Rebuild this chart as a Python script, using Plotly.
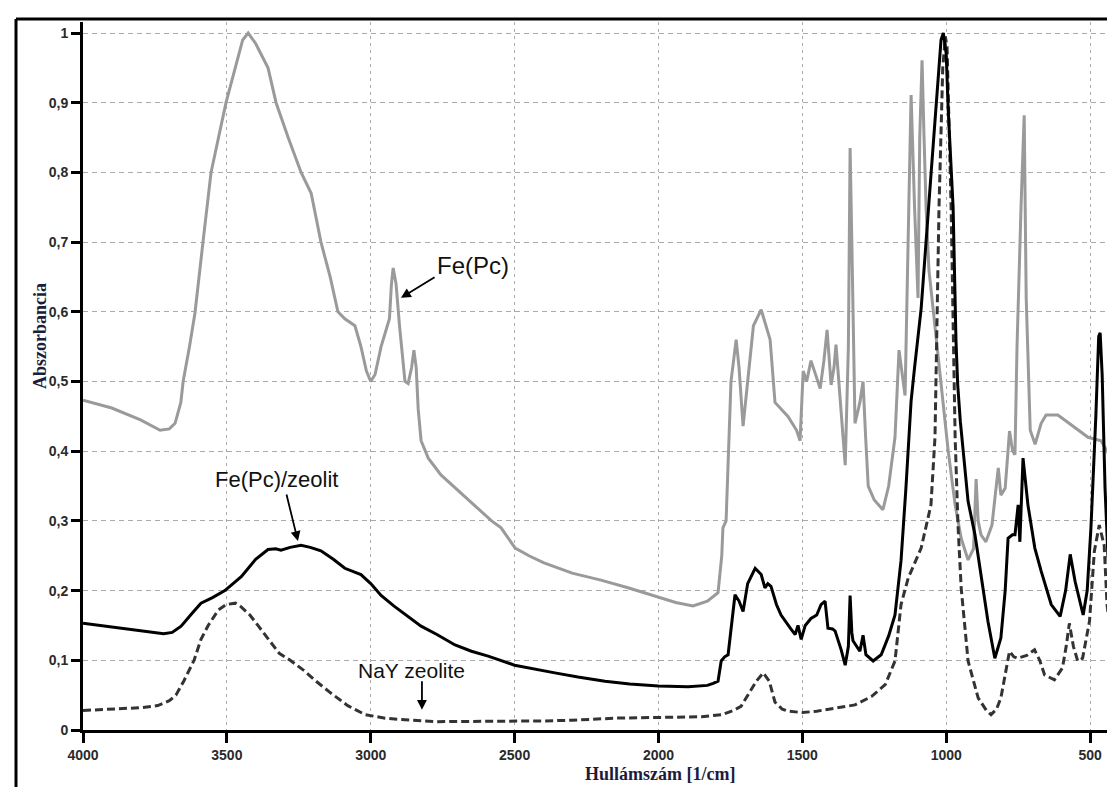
import plotly.graph_objects as go

# ---- data ----
fepc_x = [4000, 3900, 3800, 3732, 3700, 3680, 3660, 3652, 3630, 3611, 3583, 3555, 3503, 3472, 3445, 3426, 3400,
          3357, 3329, 3287, 3242, 3207, 3173, 3141, 3114, 3090, 3070, 3055, 3034, 3015, 3000, 2985, 2964, 2947,
          2935, 2928, 2922, 2912, 2900, 2881, 2870, 2858, 2850, 2842, 2835, 2825, 2800, 2756, 2700, 2627, 2580,
          2547, 2498, 2450, 2400, 2300, 2250, 2200, 2106, 2000, 1940, 1880, 1830, 1793, 1780, 1776, 1765, 1748,
          1730, 1720, 1706, 1690, 1670, 1643, 1625, 1612, 1595, 1550, 1520, 1508, 1497, 1485, 1470, 1455, 1438,
          1425, 1414, 1400, 1390, 1383, 1365, 1351, 1340, 1334, 1328, 1322, 1317, 1300, 1289, 1280, 1271, 1250,
          1220, 1200, 1178, 1164, 1150, 1143, 1130, 1122, 1110, 1098, 1092, 1084, 1077, 1070, 1060, 1040, 1020,
          1003, 993, 969, 948, 924, 905, 896, 889, 879, 862, 841, 830, 819, 810, 795, 780, 769, 761, 754, 740,
          729, 722, 708, 691, 670, 653, 612, 566, 507, 462, 427, 403]
fepc_y = [0.473, 0.462, 0.445, 0.43, 0.432, 0.44, 0.47, 0.50, 0.55, 0.598, 0.70, 0.80, 0.90, 0.95, 0.99, 1.0, 0.985,
          0.95, 0.90, 0.85, 0.80, 0.77, 0.70, 0.65, 0.60, 0.59, 0.585, 0.58, 0.55, 0.515, 0.50, 0.51, 0.55, 0.575,
          0.59, 0.64, 0.663, 0.64, 0.58, 0.50, 0.497, 0.52, 0.545, 0.52, 0.46, 0.415, 0.39, 0.366, 0.345, 0.318, 0.30,
          0.29, 0.261, 0.25, 0.24, 0.225, 0.22, 0.215, 0.204, 0.19, 0.183, 0.178, 0.185, 0.197, 0.25, 0.29, 0.30, 0.50,
          0.56, 0.52, 0.436, 0.50, 0.58, 0.603, 0.58, 0.56, 0.47, 0.45, 0.43, 0.415, 0.515, 0.50, 0.53, 0.51, 0.49,
          0.53, 0.574, 0.495, 0.52, 0.553, 0.45, 0.38, 0.55, 0.835, 0.70, 0.55, 0.44, 0.47, 0.50, 0.42, 0.35, 0.33,
          0.316, 0.35, 0.42, 0.545, 0.50, 0.48, 0.75, 0.911, 0.75, 0.62, 0.85, 0.961, 0.85, 0.75, 0.66, 0.58, 0.50,
          0.43, 0.40, 0.323, 0.275, 0.244, 0.26, 0.36, 0.30, 0.28, 0.27, 0.294, 0.333, 0.376, 0.337, 0.347, 0.429,
          0.40, 0.395, 0.548, 0.75, 0.882, 0.62, 0.43, 0.41, 0.44, 0.452, 0.452, 0.438, 0.42, 0.415, 0.39, 0.362]

zeo_x = [4000, 3900, 3800, 3720, 3690, 3659, 3620, 3590, 3550, 3507, 3450, 3400, 3357, 3330, 3312, 3280, 3242,
         3210, 3173, 3130, 3090, 3034, 3000, 2964, 2920, 2870, 2825, 2770, 2707, 2650, 2592, 2500, 2430, 2360,
         2280, 2186, 2100, 2000, 1897, 1830, 1810, 1793, 1782, 1770, 1758, 1745, 1734, 1720, 1706, 1690, 1664,
         1643, 1630, 1620, 1609, 1590, 1574, 1540, 1525, 1515, 1504, 1490, 1470, 1450, 1435, 1421, 1411, 1395,
         1386, 1365, 1351, 1340, 1334, 1328, 1324, 1300, 1289, 1279, 1254, 1226, 1200, 1178, 1157, 1140, 1122,
         1110, 1087, 1053, 1030, 1018, 1010, 1000, 993, 976, 966, 960, 951, 924, 900, 879, 855, 831, 810, 795,
         785, 770, 761, 750, 744, 733, 716, 692, 670, 635, 604, 585, 569, 552, 524, 510, 497, 480, 470, 465, 458,
         448, 438, 427, 413, 396]
zeo_y = [0.153, 0.148, 0.142, 0.138, 0.14, 0.149, 0.168, 0.182, 0.19, 0.20, 0.22, 0.245, 0.259, 0.26, 0.258, 0.262,
         0.265, 0.262, 0.257, 0.245, 0.232, 0.223, 0.21, 0.193, 0.178, 0.163, 0.149, 0.137, 0.122, 0.113, 0.106,
         0.093, 0.087, 0.082, 0.076, 0.07, 0.066, 0.063, 0.062, 0.064, 0.067, 0.07, 0.099, 0.105, 0.108, 0.15,
         0.194, 0.185, 0.17, 0.21, 0.232, 0.223, 0.204, 0.21, 0.206, 0.18, 0.165, 0.145, 0.137, 0.15, 0.13, 0.15,
         0.16, 0.165, 0.18, 0.185, 0.146, 0.145, 0.142, 0.115, 0.093, 0.12, 0.193, 0.14, 0.128, 0.113, 0.136,
         0.108, 0.099, 0.108, 0.135, 0.165, 0.243, 0.347, 0.472, 0.52, 0.605, 0.796, 0.92, 0.99, 1.0, 0.97, 0.89,
         0.75, 0.558, 0.495, 0.443, 0.328, 0.28, 0.223, 0.156, 0.103, 0.132, 0.20, 0.275, 0.28, 0.28, 0.323, 0.27,
         0.39, 0.323, 0.261, 0.228, 0.18, 0.163, 0.2, 0.252, 0.213, 0.165, 0.2, 0.29, 0.45, 0.565, 0.57, 0.51,
         0.347, 0.25, 0.185, 0.17, 0.19]

nay_x = [4000, 3900, 3800, 3740, 3700, 3677, 3650, 3614, 3590, 3565, 3530, 3503, 3470, 3454, 3420, 3392, 3355,
         3318, 3280, 3231, 3190, 3145, 3080, 3019, 2950, 2895, 2770, 2600, 2400, 2300, 2150, 2000, 1850, 1780,
         1740, 1713, 1690, 1660, 1636, 1615, 1595, 1570, 1550, 1500, 1450, 1400, 1317, 1260, 1212, 1178, 1157,
         1132, 1087, 1053, 1039, 1035, 1025, 1012, 1003, 997, 990, 983, 969, 959, 948, 924, 889, 860, 844, 825,
         810, 795, 780, 765, 752, 720, 693, 675, 658, 624, 596, 583, 572, 558, 543, 526, 502, 485, 468, 451, 441,
         424, 396]
nay_y = [0.028, 0.03, 0.032, 0.035, 0.042, 0.05, 0.07, 0.10, 0.13, 0.15, 0.172, 0.18, 0.182, 0.178, 0.165, 0.15,
         0.13, 0.11, 0.10, 0.085, 0.07, 0.055, 0.035, 0.022, 0.017, 0.015, 0.012, 0.012, 0.013, 0.014, 0.017, 0.018,
         0.019, 0.022, 0.028, 0.034, 0.05, 0.07, 0.082, 0.07, 0.04, 0.03, 0.027, 0.025, 0.027, 0.03, 0.036, 0.048,
         0.065, 0.099, 0.18, 0.218, 0.261, 0.323, 0.42, 0.515, 0.75, 0.95, 0.995, 0.98, 0.88, 0.75, 0.42, 0.294,
         0.204, 0.099, 0.046, 0.028, 0.022, 0.03, 0.046, 0.08, 0.113, 0.105, 0.103, 0.107, 0.115, 0.10, 0.079,
         0.072, 0.089, 0.12, 0.153, 0.12, 0.099, 0.103, 0.156, 0.257, 0.294, 0.265, 0.18, 0.12, 0.118]

x_tick_vals = [4000, 3500, 3000, 2500, 2000, 1500, 1000, 500]
x_tick_text = ["4000", "3500", "3000", "2500", "2000", "1500", "1000", "500"]
y_tick_vals = [0, 0.1, 0.2, 0.3, 0.4, 0.5, 0.6, 0.7, 0.8, 0.9, 1.0]
y_tick_text = ["0", "0,1", "0,2", "0,3", "0,4", "0,5", "0,6", "0,7", "0,8", "0,9", "1"]

# ---- figure ----
fig = go.Figure()
fig.add_trace(go.Scatter(x=fepc_x, y=fepc_y, mode="lines", name="Fe(Pc)",
                         line=dict(color="#9a9a9a", width=3)))
fig.add_trace(go.Scatter(x=nay_x, y=nay_y, mode="lines", name="NaY zeolite",
                         line=dict(color="#333333", width=3, dash="8px,4px")))
fig.add_trace(go.Scatter(x=zeo_x, y=zeo_y, mode="lines", name="Fe(Pc)/zeolit",
                         line=dict(color="#000000", width=3)))

L, R, T, B = 75, 3, 14, 65
W, H = 1115, 787
pw, ph = W - L - R, H - T - B

def px_x(p):
    return (p - L) / pw

def px_y(p):
    return (H - B - p) / ph

sans = "Liberation Sans, Arial, sans-serif"
title_font = dict(family="Liberation Serif, Times New Roman, serif", size=18, color="#1c1c3c")

annotations = [
    dict(x=2895, y=0.62, ax=2773, ay=0.651, xref="x", yref="y", axref="x", ayref="y",
         showarrow=True, arrowhead=2, arrowsize=1.1, arrowwidth=1.8, arrowcolor="#000", text=""),
    dict(x=2644, y=0.667, xref="x", yref="y", text="Fe(Pc)", showarrow=False,
         font=dict(family=sans, size=24, color="#111")),
    dict(x=3253, y=0.271, ax=3294, ay=0.34, xref="x", yref="y", axref="x", ayref="y",
         showarrow=True, arrowhead=2, arrowsize=1.1, arrowwidth=1.8, arrowcolor="#000", text=""),
    dict(x=3329, y=0.359, xref="x", yref="y", text="Fe(Pc)/zeolit", showarrow=False,
         font=dict(family=sans, size=22, color="#111")),
    dict(x=2822, y=0.029, ax=2822, ay=0.072, xref="x", yref="y", axref="x", ayref="y",
         showarrow=True, arrowhead=2, arrowsize=1.1, arrowwidth=1.8, arrowcolor="#000", text=""),
    dict(x=2860, y=0.086, xref="x", yref="y", text="NaY zeolite", showarrow=False,
         font=dict(family=sans, size=21, color="#111")),
    dict(x=px_x(20), y=px_y(328), xref="paper", yref="paper", text="<b>Abszorbancia</b>",
         showarrow=False, textangle=-90, font=title_font),
    dict(x=px_x(652), y=px_y(778), xref="paper", yref="paper", text="<b>Hullámszám [1/cm]</b>",
         showarrow=False, font=title_font),
]

shapes = [
    dict(type="line", xref="paper", yref="paper", x0=px_x(8), x1=px_x(8), y0=px_y(800), y1=px_y(11),
         line=dict(color="#000", width=3)),
    dict(type="line", xref="paper", yref="paper", x0=px_x(8), x1=px_x(1120), y0=px_y(11), y1=px_y(11),
         line=dict(color="#000", width=3)),
]

tick_font = dict(family=sans, size=14, color="#2a2a2a", weight="bold")

fig.update_layout(
    width=W, height=H,
    margin=dict(l=L, r=R, t=T, b=B),
    paper_bgcolor="white", plot_bgcolor="white",
    showlegend=False,
    annotations=annotations,
    shapes=shapes,
    font=dict(family=sans, size=14, color="#222"),
)
fig.update_xaxes(range=[4000, 396], tickvals=x_tick_vals, ticktext=x_tick_text,
                 showline=True, linecolor="#000", linewidth=3,
                 ticks="outside", ticklen=10, tickwidth=3, tickcolor="#000",
                 showgrid=True, gridcolor="#aaaaaa", gridwidth=1, griddash="3px,4px",
                 zeroline=False, tickfont=tick_font)
fig.update_yaxes(range=[0, 1.0158], tickvals=y_tick_vals, ticktext=y_tick_text,
                 showline=True, linecolor="#000", linewidth=3,
                 ticks="outside", ticklen=9, tickwidth=3, tickcolor="#000",
                 showgrid=True, gridcolor="#aaaaaa", gridwidth=1, griddash="5px,4px",
                 zeroline=False, tickfont=tick_font)

fig.write_html("out.html")
